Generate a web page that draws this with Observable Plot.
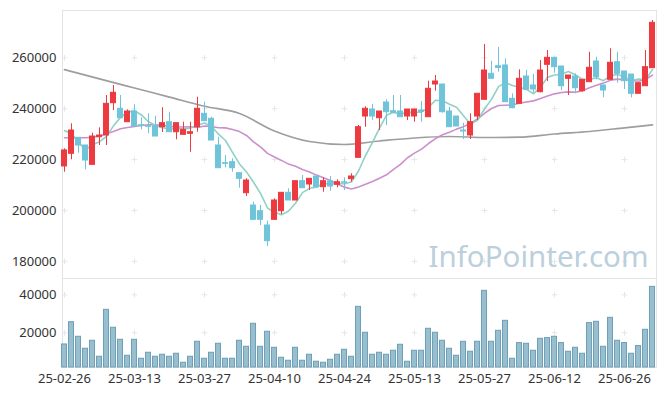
<!DOCTYPE html>
<html><head><meta charset="utf-8">
<script src="https://cdn.jsdelivr.net/npm/d3@7"></script>
<script src="https://cdn.jsdelivr.net/npm/@observablehq/plot@0.6"></script>
<style>
body{margin:0;background:#fff;}
#chart svg{display:block;}
</style></head><body><div id="chart"></div>
<script>
const dates = ["25-02-26","25-02-27","25-02-28","25-03-04","25-03-05","25-03-06","25-03-07","25-03-10","25-03-11","25-03-12",
"25-03-13","25-03-14","25-03-17","25-03-18","25-03-19","25-03-20","25-03-21","25-03-24","25-03-25","25-03-26",
"25-03-27","25-03-28","25-03-31","25-04-01","25-04-02","25-04-03","25-04-04","25-04-07","25-04-08","25-04-09",
"25-04-10","25-04-11","25-04-14","25-04-15","25-04-16","25-04-17","25-04-18","25-04-21","25-04-22","25-04-23",
"25-04-24","25-04-25","25-04-28","25-04-29","25-04-30","25-05-02","25-05-07","25-05-08","25-05-09","25-05-12",
"25-05-13","25-05-14","25-05-15","25-05-16","25-05-19","25-05-20","25-05-21","25-05-22","25-05-23","25-05-26",
"25-05-27","25-05-28","25-05-29","25-05-30","25-06-02","25-06-04","25-06-05","25-06-09","25-06-10","25-06-11",
"25-06-12","25-06-13","25-06-16","25-06-17","25-06-18","25-06-19","25-06-20","25-06-23","25-06-24","25-06-25",
"25-06-26","25-06-27","25-06-30","25-07-01","25-07-02"];

const opens = [217300,222270,228560,225535,217950,228800,229465,242160,239960,234690,
238900,233500,233100,233120,232730,234690,230760,229740,230130,232730,
237990,236030,225535,218580,218970,214650,206790,201955,199715,194095,
196335,199715,206945,203920,211505,210208,213352,209147,211387,210090,
211073,212291,220701,236932,239683,236264,242434,239015,238897,236932,
236932,239290,236657,249508,249508,238897,236932,231430,229465,236932,
243495,253713,256700,256975,243888,241923,252652,249115,246482,257250,
260000,256582,251748,252652,246875,250412,258547,249115,251355,258272,
254617,253438,245853,248840,255914];

const highs = [224240,234060,228560,225535,230370,232490,245185,249115,245185,239565,
241530,236420,237990,237050,240390,238620,234300,234690,234690,244520,
242550,236660,228800,221600,220310,214650,212450,203250,201955,195785,
204590,206945,208520,211505,213745,212448,213352,212841,213352,212055,
212841,214413,233395,240744,241648,238897,243495,245185,245185,239683,
239683,242827,250805,253045,249508,240587,236932,234299,237993,245853,
265228,258665,264049,259608,245853,255285,255010,253438,258940,262870,
260000,256582,253045,253713,251355,262202,260237,249115,263538,262202,
254617,253438,250019,262870,274660];

const lows = [215040,219910,222510,215985,217950,225535,225535,239290,236265,234690,
233000,231705,230130,229070,230650,230760,227775,229740,222900,230760,
235085,227500,216610,216770,215040,208750,205490,196060,194095,185840,
196060,198420,203920,203920,208754,207850,209147,207182,207575,208911,
207850,211112,220701,232727,235360,231430,233395,238386,236657,235360,
234692,234692,236657,246875,238229,232727,233002,227893,227893,235360,
243495,251748,254342,242552,239958,241923,247425,246246,246246,250687,
253949,247150,245185,245853,246482,250412,251355,244281,251355,250019,
247543,244281,245853,248840,255914];

const closes = [223600,231430,225535,219640,229070,229450,241920,246250,236265,238900,
233000,233300,232900,229070,234300,230760,234300,231705,230760,239960,
235085,227500,216610,218320,216610,212450,211780,196335,196335,187925,
203920,206945,203920,211505,208754,212448,209147,211505,209422,211112,
210876,213352,232727,239958,236932,238897,238622,238386,236657,239683,
239683,238779,247818,250687,238622,232727,233002,231037,234692,245853,
255010,251748,255992,242552,240194,251748,247425,247543,255010,260000,
256307,248840,253045,248054,251355,256071,252377,247150,258036,253713,
250805,245853,250019,256307,273756];

const volumes = [13840,25580,17890,11580,15790,7370,32100,22630,16310,7890,
16310,6320,9470,7370,8420,7370,8950,4210,7370,15260,
6320,9470,14210,6320,6320,15790,12630,24730,12630,20530,
12100,6840,5260,12100,5260,8420,4740,4210,5790,8420,
11050,7370,33680,20000,8420,9470,8420,10530,13680,4740,
10530,10530,22100,20000,15790,11580,7890,15260,10000,15260,
42100,15260,21050,26300,6320,14570,14210,10530,16840,17200,
17890,14570,10000,12100,8950,25100,25790,12630,27900,15790,
14570,8950,13000,21570,44200];

// moving-average values read from the chart where earlier history is not shown
const ma5Lead = [231430,230130,226830,223800];
const ma20Lead = [228560,228560,228560,228600,228800,229270,230130,231040,232100,232610,
233000,233400,233670,233670,233400,233120,232800,232800,232880];
const ma60Idx = [0,5,10,15,20,25,30,35,40,45,50,55,60,65,70,75,80,84];
const ma60Val = [255330,251710,248130,244560,240980,238110,231230,227110,225930,227300,
228480,229070,228680,228800,230060,231040,232490,233670];

const priceTicks = [180000,200000,220000,240000,260000];
const volTicks = [20000,40000];
const xTicks = d3.range(0, 85, 10);

const data = dates.map((d,i)=>({i, date:d, open:opens[i], high:highs[i], low:lows[i], close:closes[i], volume:volumes[i], up: closes[i] >= opens[i]}));
const ma5 = closes.map((c,i)=>({i, v: i < 4 ? ma5Lead[i] : d3.mean(closes.slice(i-4, i+1))}));
const ma20 = closes.map((c,i)=>({i, v: i < 19 ? ma20Lead[i] : d3.mean(closes.slice(i-19, i+1))}));
const ma60 = ma60Idx.map((i,k)=>({i, v: ma60Val[k]}));

const UP = "#ec3a40", DOWN = "#6fc4da";
const X = [-2/7, 84 + 4/7];
const FONT = "'Noto Sans', sans-serif";
const gridMain = xTicks.flatMap(x => priceTicks.map(y => ({x, y})));
const gridVol = xTicks.flatMap(x => volTicks.map(y => ({x, y})));

const main = Plot.plot({
  width: 665, height: 278, marginTop: 10, marginBottom: 0, marginLeft: 62, marginRight: 9,
  style: {fontFamily: FONT, fontSize: "13px", color: "#333", background: "#fff"},
  x: {type: "linear", domain: X, axis: null},
  y: {domain: [173270, 278590], ticks: priceTicks, tickSize: 0, tickPadding: 6, tickFormat: d => String(d), label: null},
  marks: [
    Plot.frame({stroke: "#e4e4e4"}),
    Plot.dot(gridMain, {x: "x", y: "y", symbol: "plus", r: 2, stroke: "#e6e6e6", strokeWidth: 1}),
    Plot.text(["InfoPointer.com"], {frameAnchor: "bottom-right", dx: -8, dy: -12, fontSize: 29.5, fill: "#bccfdc", lineAnchor: "bottom", fontFamily: FONT}),
    Plot.line(ma60, {x: "i", y: "v", stroke: "#9e9e9e", strokeWidth: 1.7, curve: "monotone-x"}),
    Plot.line(ma20, {x: "i", y: "v", stroke: "#cc8fcb", strokeWidth: 1.6}),
    Plot.line(ma5, {x: "i", y: "v", stroke: "#8fd1c6", strokeWidth: 1.6}),
    Plot.ruleX(data, {x: "i", y1: "low", y2: "high", stroke: d => d.up ? UP : DOWN, strokeWidth: 1}),
    Plot.rect(data, {x1: d => d.i - 0.36, x2: d => d.i + 0.36, y1: "open", y2: "close",
      fill: d => d.up ? UP : DOWN, stroke: d => d.up ? UP : DOWN, strokeWidth: 1})
  ]
});

const vol = Plot.plot({
  width: 665, height: 118, marginTop: 0, marginBottom: 29, marginLeft: 62, marginRight: 9,
  style: {fontFamily: FONT, fontSize: "13px", color: "#333", background: "#fff"},
  x: {type: "linear", domain: X, ticks: xTicks, tickFormat: i => dates[i], tickSize: 0, tickPadding: 6, label: null},
  y: {domain: [1700, 48600], ticks: volTicks, tickSize: 0, tickPadding: 6, tickFormat: d => String(d), label: null},
  marks: [
    Plot.frame({stroke: "#e4e4e4"}),
    Plot.dot(gridVol, {x: "x", y: "y", symbol: "plus", r: 2, stroke: "#e6e6e6", strokeWidth: 1}),
    Plot.rect(data, {x1: d => d.i - 0.36, x2: d => d.i + 0.36, y1: 1700, y2: "volume",
      fill: "#98bfcf", stroke: "#6f9fb5", strokeWidth: 1})
  ]
});

document.getElementById("chart").append(main, vol);
</script>
</body></html>
